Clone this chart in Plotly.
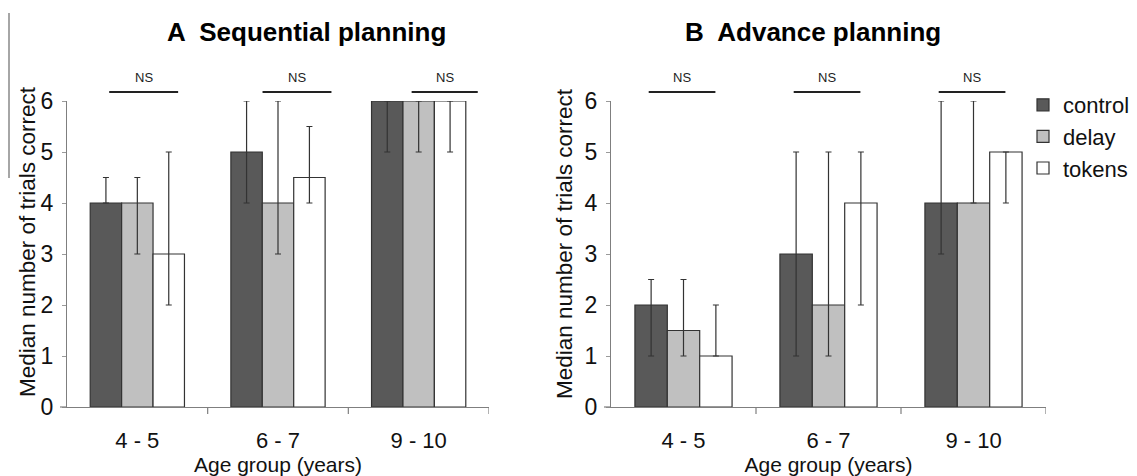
import plotly.graph_objects as go
from plotly.subplots import make_subplots

age_groups = ["4 - 5", "6 - 7", "9 - 10"]
conditions = ["control", "delay", "tokens"]

# Panel A: Sequential planning (median, lower bound, upper bound)
seq_median = {"control": [4, 5, 6], "delay": [4, 4, 6], "tokens": [3, 4.5, 6]}
seq_low = {"control": [4, 4, 5], "delay": [3, 3, 5], "tokens": [2, 4, 5]}
seq_high = {"control": [4.5, 6, 6], "delay": [4.5, 6, 6], "tokens": [5, 5.5, 6]}

# Panel B: Advance planning
adv_median = {"control": [2, 3, 4], "delay": [1.5, 2, 4], "tokens": [1, 4, 5]}
adv_low = {"control": [1, 1, 3], "delay": [1, 1, 4], "tokens": [1, 2, 4]}
adv_high = {"control": [2.5, 5, 6], "delay": [2.5, 5, 6], "tokens": [2, 5, 5]}

titles = ["<b>A  Sequential planning</b>", "<b>B  Advance planning</b>"]
y_title = "Median number of trials correct"
x_title = "Age group (years)"
ns_label = "NS"

colors = {"control": "#595959", "delay": "#c0c0c0", "tokens": "#ffffff"}
W, H = 1137, 476

fig = make_subplots(rows=1, cols=2)

panels = [(seq_median, seq_low, seq_high), (adv_median, adv_low, adv_high)]
for p, (med, lo, hi) in enumerate(panels):
    for c in conditions:
        fig.add_trace(
            go.Bar(
                x=list(range(len(age_groups))),
                y=med[c],
                name=c,
                legendgroup=c,
                showlegend=(p == 1),
                marker=dict(color=colors[c], line=dict(color="#333333", width=1.2)),
                error_y=dict(
                    type="data",
                    symmetric=False,
                    array=[h - m for h, m in zip(hi[c], med[c])],
                    arrayminus=[m - l for m, l in zip(med[c], lo[c])],
                    color="#333333",
                    thickness=1.2,
                    width=3,
                ),
                hoverinfo="skip",
            ),
            row=1,
            col=p + 1,
        )

font_family = "Liberation Sans, Arial, sans-serif"
txt = "#111111"

dom_x = [[67 / W, 489 / W], [611 / W, 1046 / W]]
dom_y = [1 - 407 / H, 1 - 101 / H]

for i in range(2):
    xa = "xaxis" if i == 0 else "xaxis2"
    ya = "yaxis" if i == 0 else "yaxis2"
    fig.layout[xa].update(
        domain=dom_x[i],
        range=[-0.5, 2.5],
        tickvals=[0, 1, 2],
        ticktext=age_groups,
        ticks="",
        ticklabelstandoff=13,
        showline=True,
        linecolor="#7f7f7f",
        linewidth=1.2,
        showgrid=False,
        zeroline=False,
        tickfont=dict(size=22, color=txt, family=font_family),
        title=dict(text=x_title, font=dict(size=21, color=txt, family=font_family), standoff=7),
        anchor="y" if i == 0 else "y2",
    )
    fig.layout[ya].update(
        domain=dom_y,
        range=[0, 6],
        tickvals=[0, 1, 2, 3, 4, 5, 6],
        showgrid=False,
        zeroline=False,
        showline=True,
        linecolor="#7f7f7f",
        linewidth=1.2,
        ticks="outside",
        tickcolor="#9a9a9a",
        ticklen=4,
        tickwidth=1,
        ticklabelstandoff=4,
        tickfont=dict(size=23, color=txt, family=font_family),
        anchor="x" if i == 0 else "x2",
    )

shapes = []
annotations = []
# y-axis titles (placed as rotated text, slightly above the axis centre as in the original)
for xc, yc in [(27, 242), (565, 244)]:
    annotations.append(dict(text=y_title, xref="paper", yref="paper", x=xc / W, y=1 - yc / H,
                            textangle=-90, showarrow=False, xanchor="center", yanchor="middle",
                            font=dict(size=22.5, color=txt, family=font_family)))

# category boundary ticks on x axes
for i, xref in enumerate(["x", "x2"]):
    for b in [0.5, 1.5, 2.5]:
        shapes.append(dict(type="line", xref=xref, yref="paper", x0=b, x1=b,
                           y0=dom_y[0], y1=dom_y[0] - 7 / H,
                           line=dict(color="#7f7f7f", width=1.2)))
    # small extension of the x axis line to the left of the y axis
    shapes.append(dict(type="line", xref="paper", yref="paper",
                       x0=dom_x[i][0] - 7 / W, x1=dom_x[i][0],
                       y0=dom_y[0], y1=dom_y[0],
                       line=dict(color="#7f7f7f", width=1.2)))

# NS brackets
ns_pos = [[(-0.2, 0.29), (0.89, 1.38), (1.95, 2.42)],
          [(-0.24, 0.22), (0.76, 1.22), (1.76, 2.22)]]
for i, xref in enumerate(["x", "x2"]):
    for a, b in ns_pos[i]:
        shapes.append(dict(type="line", xref=xref, yref="paper", x0=a, x1=b,
                           y0=1 - 92 / H, y1=1 - 92 / H,
                           line=dict(color="#222222", width=2)))
        annotations.append(dict(text=ns_label, xref=xref, yref="paper", x=(a + b) / 2,
                                y=1 - 78 / H, showarrow=False, xanchor="center", yanchor="middle",
                                font=dict(size=13, color="#222222", family=font_family)))

# panel titles
for t, xc in zip(titles, [306, 813]):
    annotations.append(dict(text=t, xref="paper", yref="paper", x=xc / W, y=1 - 32 / H,
                            showarrow=False, xanchor="center", yanchor="middle",
                            font=dict(size=26, color="#000000",
                                      family="Liberation Sans Narrow, Arial Narrow, Liberation Sans, Arial")))

# thin grey artifact line at left edge
shapes.append(dict(type="line", xref="paper", yref="paper", x0=9 / W, x1=9 / W,
                   y0=1 - 13 / H, y1=1 - 178 / H, line=dict(color="#888888", width=1.5)))

fig.update_layout(
    width=W,
    height=H,
    margin=dict(l=0, r=0, t=0, b=0, autoexpand=False),
    paper_bgcolor="white",
    plot_bgcolor="white",
    barmode="group",
    bargap=0.33,
    bargroupgap=0,
    shapes=shapes,
    annotations=annotations,
    legend=dict(
        x=1023 / W,
        y=1 - 84 / H,
        xanchor="left",
        yanchor="top",
        font=dict(size=22, color=txt, family=font_family),
        itemwidth=30,
        traceorder="grouped",
        tracegroupgap=0,
        bgcolor="rgba(0,0,0,0)",
    ),
    font=dict(family=font_family),
)

fig.write_html("out.html", config={"displayModeBar": False},
               post_script="document.body.style.margin='0';")
